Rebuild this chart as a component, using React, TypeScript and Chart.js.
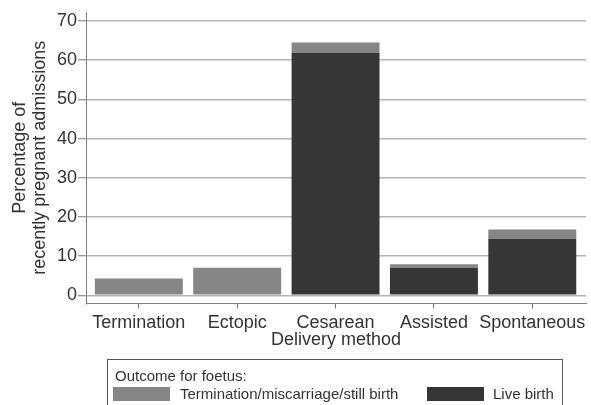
import React, { useEffect, useRef } from "react";
import { Chart, registerables } from "chart.js";

Chart.register(...registerables);

const categories = ["Termination", "Ectopic", "Cesarean", "Assisted", "Spontaneous"];
const liveBirth = [0, 0, 61.9, 7.0, 14.4];
const lossOutcome = [4.3, 7.0, 2.6, 0.9, 2.4];
const yTicks = [0, 10, 20, 30, 40, 50, 60, 70];
const seriesNames = ["Termination/miscarriage/still birth", "Live birth"];
const seriesColors = ["#868686", "#363636"];
const legendTitle = "Outcome for foetus:";
const xTitle = "Delivery method";
const yTitle = ["Percentage of", "recently pregnant admissions"];

const FONT = '"Liberation Sans", Arial, Helvetica, sans-serif';
const TEXT = "#333333";

const boxLegend = {
  id: "boxLegend",
  afterDraw(chart: any) {
    const ctx = chart.ctx as CanvasRenderingContext2D;
    ctx.save();
    ctx.strokeStyle = "#555555";
    ctx.lineWidth = 1;
    ctx.strokeRect(107.5, 359.5, 455, 60);
    ctx.fillStyle = TEXT;
    ctx.font = `15px ${FONT}`;
    ctx.textAlign = "left";
    ctx.textBaseline = "alphabetic";
    ctx.fillText(legendTitle, 115, 381);
    const slots = [
      { sx: 113, lx: 180 },
      { sx: 427, lx: 493 },
    ];
    seriesNames.forEach((name, i) => {
      const s = slots[i];
      ctx.fillStyle = seriesColors[i];
      ctx.fillRect(s.sx, 387, 57, 14);
      ctx.fillStyle = TEXT;
      ctx.textBaseline = "middle";
      ctx.fillText(name, s.lx, 394.5);
    });
    ctx.restore();
  },
};

export default function App() {
  const ref = useRef<HTMLCanvasElement | null>(null);
  useEffect(() => {
    if (!ref.current) return;
    Chart.defaults.font.family = FONT;
    const chart = new Chart(ref.current, {
      type: "bar",
      data: {
        datasets: [
          {
            label: seriesNames[1],
            data: liveBirth.map((v, i) => ({ x: i, y: v })),
            backgroundColor: seriesColors[1],
            borderWidth: 0,
          },
          {
            label: seriesNames[0],
            data: lossOutcome.map((v, i) => ({ x: i, y: v })),
            backgroundColor: seriesColors[0],
            borderWidth: 0,
          },
        ],
      },
      options: {
        responsive: false,
        animation: false,
        layout: { padding: { top: 12, right: 5, left: 0, bottom: 0 } },
        datasets: { bar: { categoryPercentage: 1, barPercentage: 0.894 } },
        plugins: { legend: { display: false }, tooltip: { enabled: false } },
        scales: {
          x: {
            type: "linear",
            offset: false,
            stacked: true,
            min: -0.537,
            max: 4.546,
            afterBuildTicks: (s: any) => {
              s.ticks = categories.map((_, i) => ({ value: i }));
            },
            afterFit: (s: any) => {
              s.height = 101.5;
            },
            grid: {
              offset: false,
              drawOnChartArea: false,
              drawTicks: true,
              tickLength: 5,
              tickColor: "#777777",
              tickWidth: 1,
            },
            border: { display: true, color: "#808080", width: 1 },
            ticks: {
              color: TEXT,
              font: { size: 18 },
              padding: 4,
              autoSkip: false,
              maxRotation: 0,
              callback: (v: any) => categories[Math.round(Number(v))] ?? "",
            },
            title: {
              display: true,
              text: xTitle,
              color: TEXT,
              font: { size: 18, lineHeight: 1.2 },
              padding: { top: 0, bottom: 54 },
            },
          },
          y: {
            stacked: true,
            min: -2.1,
            max: 72.3,
            afterBuildTicks: (s: any) => {
              s.ticks = yTicks.map((v) => ({ value: v }));
            },
            afterFit: (s: any) => {
              s.width = 86;
            },
            grid: {
              color: "#b4b4b4",
              lineWidth: 1.5,
              tickColor: "#777777",
              tickLength: 8,
              tickWidth: 1,
            },
            border: { display: true, color: "#808080", width: 1 },
            ticks: { color: TEXT, font: { size: 18 }, padding: 1 },
            title: {
              display: true,
              text: yTitle,
              color: TEXT,
              font: { size: 18, lineHeight: 1.1 },
              padding: { top: 10, bottom: 0 },
            },
          },
        },
      },
      plugins: [boxLegend],
    } as any);
    return () => chart.destroy();
  }, []);
  return (
    <div style={{ position: "fixed", left: 0, top: 0, width: 591, height: 405, background: "#fff" }}>
      <canvas ref={ref} width={591} height={405} style={{ display: "block" }} />
    </div>
  );
}
